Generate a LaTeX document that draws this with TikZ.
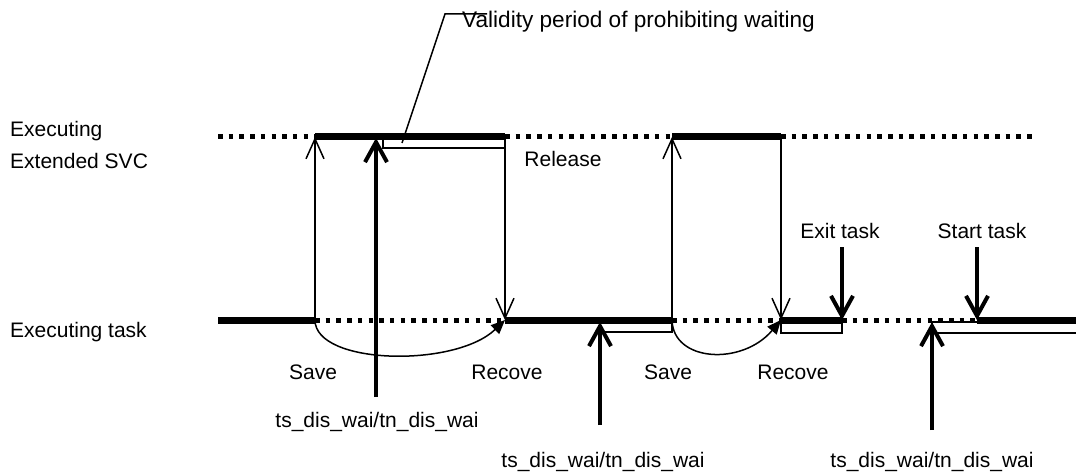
\documentclass[tikz,border=0pt]{standalone}
\usepackage{fontspec}
\setmainfont{Liberation Sans}
\usetikzlibrary{arrows.meta}
\begin{document}
\begin{tikzpicture}[x=1pt,y=-1pt,
  lbl/.style={font=\fontsize{21}{25}\selectfont, inner sep=0pt, anchor=base},
  busy/.style={line width=7pt},
  idle/.style={line width=5pt, dash pattern=on 4.5pt off 6.2pt},
  frame/.style={line width=1.5pt, fill=white},
  ctx/.style={line width=1.5pt, -{Straight Barb[length=20pt,width=18pt,line width=1.5pt]}},
  call/.style={line width=4pt, -{Straight Barb[length=20pt,width=22pt,line width=4pt]}},
  swap/.style={line width=1.5pt, -{Triangle[length=14pt,width=12pt]}},
  lead/.style={line width=1.5pt}
]
\useasboundingbox (0,0) rectangle (1076,473);

% levels
\coordinate (sL) at (218,137);  \coordinate (tL) at (218,320);
\coordinate (s1) at (315,137);  \coordinate (t1) at (315,320);
\coordinate (s2) at (505,137);  \coordinate (t2) at (505,320);
\coordinate (s3) at (672,137);  \coordinate (t3) at (672,320);
\coordinate (s4) at (781,137);  \coordinate (t4) at (781,320);
\coordinate (sR) at (1035,137);
\coordinate (t5) at (842,320);  \coordinate (t6) at (977,320);
\coordinate (tR) at (1080,320);

% periods in which waiting is prohibited
\draw[frame] (383,137) rectangle (505,148);
\draw[frame] (600,320) rectangle (672,332);
\draw[frame] (781,320) rectangle (842,333);
\draw[frame] (932,322) rectangle (1082,333);

% extended SVC level
\draw[idle] (sL) -- (s1);
\draw[busy] (s1) -- (s2);
\draw[idle] (s2) -- (s3);
\draw[busy] (s3) -- (s4);
\draw[idle] (s4) -- (sR);

% task level
\draw[busy] (tL) -- (t1);
\draw[idle] (t1) -- (t2);
\draw[busy] (t2) -- (t3);
\draw[idle] (t3) -- (t4);
\draw[busy] (t4) -- (t5);
\draw[idle] (t5) -- (t6);
\draw[busy] (t6) -- (tR);

% context switches
\draw[ctx] (t1) -- (s1);
\draw[ctx] (s2) -- (t2);
\draw[ctx] (t3) -- (s3);
\draw[ctx] (s4) -- (t4);
\draw[swap] (t1) .. controls (315,365) and (455,368) .. (t2);
\draw[swap] (t3) .. controls (673,362) and (742,366) .. (t4);

% system calls and task events
\coordinate (c1) at (376,397); \coordinate (c1t) at (376,138);
\coordinate (c2) at (600,425); \coordinate (c2t) at (600,322);
\coordinate (c3) at (932,430); \coordinate (c3t) at (932,322);
\coordinate (ex) at (842,247); \coordinate (st) at (977,247);
\draw[call] (c1) -- (c1t);
\draw[call] (c2) -- (c2t);
\draw[call] (c3) -- (c3t);
\draw[call] (ex) -- (t5);
\draw[call] (st) -- (t6);

% callout
\coordinate (p0) at (402,143);
\coordinate (p1) at (445,14);
\coordinate (p2) at (487,14);
\draw[lead] (p0) -- (p1) -- (p2);
\node[lbl, font=\fontsize{22.6}{26}\selectfont, anchor=base west] (valid) at (462,28) {Validity period of prohibiting waiting};

% labels
\node[lbl, anchor=base west] (lsvc1) at (10,137) {Executing};
\node[lbl, anchor=base west] (lsvc2) at (10,169) {Extended SVC};
\node[lbl, anchor=base west] (ltask) at (10,337) {Executing task};
\node[lbl] (rel) at (563,167) {Release};
\node[lbl] (sv1) at (313,379) {Save};
\node[lbl] (rc1) at (507,379) {Recove};
\node[lbl] (sv2) at (668,379) {Save};
\node[lbl] (rc2) at (793,379) {Recove};
\node[lbl] (lex) at (840,238) {Exit task};
\node[lbl] (lst) at (982,238) {Start task};
\node[lbl] (ts1) at (377,427) {ts\_dis\_wai/tn\_dis\_wai};
\node[lbl] (ts2) at (603,467) {ts\_dis\_wai/tn\_dis\_wai};
\node[lbl] (ts3) at (932,467) {ts\_dis\_wai/tn\_dis\_wai};
\end{tikzpicture}
\end{document}
